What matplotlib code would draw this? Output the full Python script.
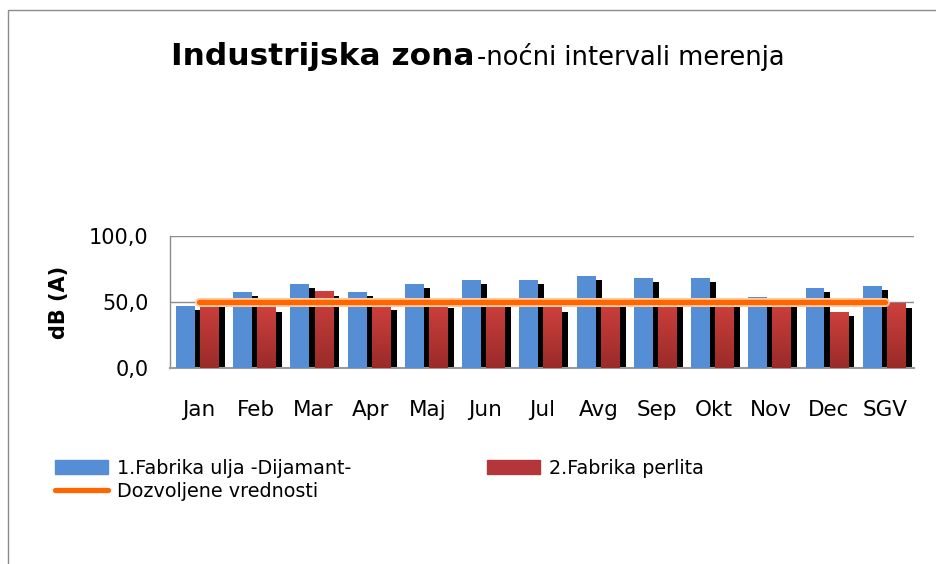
import numpy as np
import matplotlib.pyplot as plt
from matplotlib.patches import Rectangle
from matplotlib.lines import Line2D
from matplotlib.colors import LinearSegmentedColormap
import matplotlib.patheffects as pe

plt.rcParams['font.family'] = ['DejaVu Sans']

months = ['Jan', 'Feb', 'Mar', 'Apr', 'Maj', 'Jun', 'Jul', 'Avg', 'Sep', 'Okt', 'Nov', 'Dec', 'SGV']
fabrika_ulja = [47.0, 57.6, 63.6, 57.6, 63.6, 66.7, 66.7, 69.7, 68.2, 68.2, 54.0, 60.6, 62.1]
fabrika_perlita = [50.0, 45.5, 57.6, 47.0, 48.5, 50.5, 45.5, 50.5, 50.5, 50.5, 50.5, 42.4, 48.5]
dozvoljene = [50, 50, 50, 50, 50, 50, 50, 50, 50, 50, 50, 50, 50]
yticks = [0, 50, 100]
ytick_labels = ['0,0', '50,0', '100,0']

blue = '#558ed5'
orange = '#ff6600'
red_map = LinearSegmentedColormap.from_list('red_grad', ['#9a2b29', '#cd403d'])

W, H = 937, 564
fig = plt.figure(figsize=(W / 100, H / 100), dpi=100)

# chart frame (only top / left visible in the reference)
fig.patches.append(Rectangle((8 / W, -0.1), 1.2, 1 - 10 / H + 0.1, transform=fig.transFigure,
                             fill=False, edgecolor='#8c8c8c', linewidth=1.0))

ax = fig.add_axes([170 / W, 1 - 368 / H, (914 - 170) / W, (368 - 236) / H])

x = np.arange(len(months))
bw = 0.33
dx_shadow = 0.105
dy_shadow = 3.0

# shadows
ax.bar(x - 0.23 + dx_shadow, np.array(fabrika_ulja) - dy_shadow, width=bw, color='black', zorder=2)
ax.bar(x + 0.19 + dx_shadow, np.array(fabrika_perlita) - dy_shadow, width=bw, color='black', zorder=2)

# blue bars
ax.bar(x - 0.23, fabrika_ulja, width=bw, color=blue, zorder=3)

# red bars with vertical gradient
grad = np.linspace(0, 1, 100).reshape(-1, 1)
for xi, v in zip(x, fabrika_perlita):
    ax.imshow(grad, cmap=red_map, origin='lower', aspect='auto',
              extent=(xi + 0.19 - bw / 2, xi + 0.19 + bw / 2, 0, v), zorder=4)

ax.plot(x, dozvoljene, color=orange, linewidth=3.8, solid_capstyle='round', zorder=6,
        path_effects=[pe.Stroke(linewidth=6.5, foreground='#ffc9a0'), pe.Normal()])

ax.set_xlim(-0.5, len(months) - 0.5)
ax.set_ylim(0, 100)
ax.set_yticks(yticks)
ax.set_yticklabels(ytick_labels, fontsize=15)
ax.set_xticks(x)
ax.set_xticklabels(months, fontsize=15.5)
ax.tick_params(axis='both', length=0)
ax.tick_params(axis='y', pad=15.5)
ax.tick_params(axis='x', pad=23)

for yv in [50, 100]:
    ax.axhline(yv, color='#8c8c8c', linewidth=1.0, zorder=1)
for s in ['top', 'right']:
    ax.spines[s].set_visible(False)
ax.spines['left'].set_color('#8c8c8c')
ax.spines['bottom'].set_color('#9a9a9a')
ax.spines['bottom'].set_linewidth(1.5)
ax.spines['left'].set_linewidth(1.0)

fig.text(59 / W, 1 - 302 / H, 'dB (A)', rotation=90, fontsize=15, fontweight='bold',
         ha='center', va='center')

# title: bold part + normal part, centred as a whole
t1 = fig.text(0, 1 - 65 / H, 'Industrijska zona', fontsize=22.5, fontweight='bold',
              ha='left', va='baseline')
t2 = fig.text(0, 1 - 65 / H, '-noćni intervali merenja', fontsize=18.5,
              ha='left', va='baseline')
fig.canvas.draw()
w1 = t1.get_window_extent().width
w2 = t2.get_window_extent().width
gap = 3
x0 = 478 - (w1 + gap + w2) / 2
t1.set_x(x0 / W)
t2.set_x((x0 + w1 + gap) / W)

fig.legend([Rectangle((0, 0), 1, 1, color=blue),
            Line2D([0], [0], color=orange, linewidth=3.8, solid_capstyle='round')],
           ['1.Fabrika ulja -Dijamant-', 'Dozvoljene vrednosti'],
           loc='upper left', bbox_to_anchor=(55 / W, 1 - 459 / H),
           frameon=False, fontsize=13.8, handlelength=2.76, handleheight=0.73,
           handletextpad=0.45, labelspacing=0.2, borderpad=0, borderaxespad=0)
fig.legend([Rectangle((0, 0), 1, 1, color='#b3363a')], ['2.Fabrika perlita'],
           loc='upper left', bbox_to_anchor=(487 / W, 1 - 459 / H),
           frameon=False, fontsize=13.8, handlelength=2.76, handleheight=0.73,
           handletextpad=0.45, borderpad=0, borderaxespad=0)

fig.savefig('out.png', dpi=100)
